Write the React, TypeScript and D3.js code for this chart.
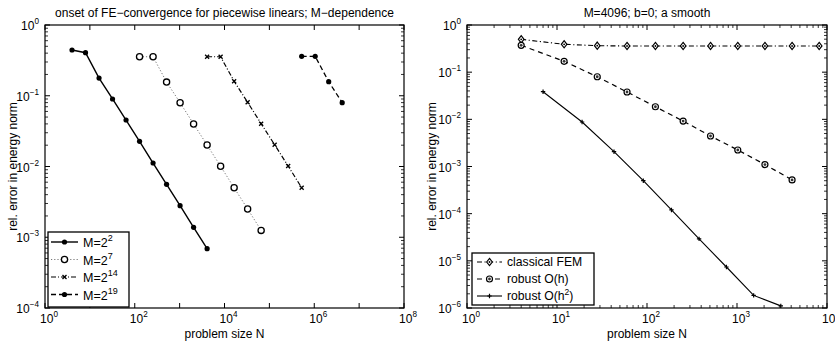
import React from "react";
import * as d3 from "d3";

// ---------- data ----------
const m2N = [4, 8, 16, 32, 64, 128, 256, 512, 1024, 2048, 4096];
const m2E = [0.443, 0.406, 0.178, 0.09, 0.0454, 0.0227, 0.0112, 0.0056, 0.00279, 0.00138, 0.00069];
const m7N = [128, 256, 512, 1024, 2048, 4096, 8192, 16384, 32768, 65536];
const m7E = [0.356, 0.356, 0.156, 0.0798, 0.0399, 0.0201, 0.01007, 0.005, 0.00251, 0.00125];
const m14N = [4096, 8192, 16384, 32768, 65536, 131072, 262144, 524288];
const m14E = [0.356, 0.356, 0.16, 0.0808, 0.0403, 0.0203, 0.01016, 0.005];
const m19N = [524288, 1048576, 2097152, 4194304];
const m19E = [0.361, 0.361, 0.158, 0.0798];

const femN = [4, 12, 28, 60, 124, 252, 508, 1020, 2044, 4092, 8188];
const femE = [0.497, 0.39, 0.364, 0.359, 0.359, 0.359, 0.359, 0.359, 0.359, 0.359, 0.359];
const ohN = [4, 12, 28, 60, 124, 252, 508, 1020, 2044, 4092];
const ohE = [0.371, 0.17, 0.08, 0.038, 0.0185, 0.0092, 0.00443, 0.00224, 0.0011, 0.00052];
const oh2N = [7, 19, 43, 91, 187, 379, 763, 1531, 3067];
const oh2E = [0.0385, 0.00879, 0.00206, 0.0005, 0.00012, 2.92e-5, 7.4e-6, 1.85e-6, 1.11e-6];

const leftXTicks = [0, 2, 4, 6, 8];
const leftYTicks = [-4, -3, -2, -1, 0];
const rightXTicks = [0, 1, 2, 3, 4];
const rightYTicks = [-6, -5, -4, -3, -2, -1, 0];

const leftTitle = "onset of FE\u2212convergence for piecewise linears; M\u2212dependence";
const rightTitle = "M=4096; b=0; a smooth";
const xLabel = "problem size N";
const yLabel = "rel. error in energy norm";

const FONT = "Liberation Sans, Arial, Helvetica, sans-serif";

type Marker = "dot" | "circle" | "x" | "diamond" | "circdot" | "plus";

function MarkerShape({ kind, x, y }: { kind: Marker; x: number; y: number }) {
  switch (kind) {
    case "dot":
      return <circle cx={x} cy={y} r={2.6} fill="#000" />;
    case "circle":
      return <circle cx={x} cy={y} r={3.1} fill="#fff" stroke="#000" strokeWidth={1.3} />;
    case "circdot":
      return (
        <g>
          <circle cx={x} cy={y} r={3.0} fill="#fff" stroke="#000" strokeWidth={1.2} />
          <circle cx={x} cy={y} r={1.4} fill="#333" />
        </g>
      );
    case "x":
      return (
        <path d={`M${x - 2},${y - 2}L${x + 2},${y + 2}M${x - 2},${y + 2}L${x + 2},${y - 2}`} stroke="#000" strokeWidth={1.3} />
      );
    case "plus":
      return (
        <path d={`M${x - 2.2},${y}L${x + 2.2},${y}M${x},${y - 2.2}L${x},${y + 2.2}`} stroke="#000" strokeWidth={1.2} />
      );
    case "diamond":
      return (
        <g>
          <path d={`M${x},${y - 3.6}L${x + 2.8},${y}L${x},${y + 3.6}L${x - 2.8},${y}Z`} fill="#fff" stroke="#000" strokeWidth={1.2} />
          <circle cx={x} cy={y} r={0.9} fill="#000" />
        </g>
      );
  }
  return null;
}

function Pow({ x, y, exp, anchor, size }: { x: number; y: number; exp: number; anchor: "middle" | "end"; size: number }) {
  const e = exp < 0 ? "\u2212" + Math.abs(exp) : String(exp);
  return (
    <text x={x} y={y} textAnchor={anchor} fontFamily={FONT} fontSize={size} fill="#000">
      10
      <tspan dy={-6} fontSize={size * 0.68}>{e}</tspan>
    </text>
  );
}

interface Series {
  n: number[];
  e: number[];
  marker: Marker;
  dash: string;
  width: number;
  color: string;
}

function Panel(props: {
  x0: number; x1: number; y0: number; y1: number;
  xDec: [number, number]; yDec: [number, number];
  xTicks: number[]; yTicks: number[];
  xMinor: boolean; yMinor: boolean;
  title: string; series: Series[]; ylabelX: number;
}) {
  const { x0, x1, y0, y1, xDec, yDec, xTicks, yTicks, series, title } = props;
  const xs = d3.scaleLog().domain([Math.pow(10, xDec[0]), Math.pow(10, xDec[1])]).range([x0, x1]);
  const ys = d3.scaleLog().domain([Math.pow(10, yDec[0]), Math.pow(10, yDec[1])]).range([y1, y0]);
  const line = d3.line<[number, number]>().x((d) => xs(d[0])).y((d) => ys(d[1]));
  const tl = 5;
  const mt = 3;
  const els: React.ReactNode[] = [];
  for (let d = xDec[0]; d <= xDec[1]; d++) {
    const v = Math.pow(10, d);
    const px = xs(v);
    els.push(<line key={`xt${d}`} x1={px} x2={px} y1={y1} y2={y1 - tl} stroke="#000" />);
    els.push(<line key={`xtt${d}`} x1={px} x2={px} y1={y0} y2={y0 + tl} stroke="#000" />);
    if (props.xMinor && d < xDec[1]) {
      for (let k = 2; k <= 9; k++) {
        const mx = xs(k * v);
        els.push(<line key={`xm${d}${k}`} x1={mx} x2={mx} y1={y1} y2={y1 - mt} stroke="#000" strokeWidth={0.8} />);
        els.push(<line key={`xmt${d}${k}`} x1={mx} x2={mx} y1={y0} y2={y0 + mt} stroke="#000" strokeWidth={0.8} />);
      }
    }
  }
  for (let d = yDec[0]; d <= yDec[1]; d++) {
    const v = Math.pow(10, d);
    const py = ys(v);
    els.push(<line key={`yt${d}`} x1={x0} x2={x0 + tl} y1={py} y2={py} stroke="#000" />);
    els.push(<line key={`ytr${d}`} x1={x1} x2={x1 - tl} y1={py} y2={py} stroke="#000" />);
    if (props.yMinor && d < yDec[1]) {
      for (let k = 2; k <= 9; k++) {
        const my = ys(k * v);
        els.push(<line key={`ym${d}${k}`} x1={x0} x2={x0 + mt} y1={my} y2={my} stroke="#000" strokeWidth={0.8} />);
        els.push(<line key={`ymr${d}${k}`} x1={x1} x2={x1 - mt} y1={my} y2={my} stroke="#000" strokeWidth={0.8} />);
      }
    }
  }
  return (
    <g>
      <rect x={x0} y={y0} width={x1 - x0} height={y1 - y0} fill="#fff" stroke="#000" strokeWidth={1.2} />
      {els}
      {series.map((s, i) => {
        const pts = s.n.map((n, j) => [n, s.e[j]] as [number, number]);
        return (
          <g key={i}>
            <path d={line(pts) || ""} fill="none" stroke={s.color} strokeWidth={s.width} strokeDasharray={s.dash} />
            {pts.map((p, j) => (
              <MarkerShape key={j} kind={s.marker} x={xs(p[0])} y={ys(p[1])} />
            ))}
          </g>
        );
      })}
      {xTicks.map((d) => (
        <Pow key={`xl${d}`} x={xs(Math.pow(10, d)) + 4} y={y1 + 15} exp={d} anchor="middle" size={12} />
      ))}
      {yTicks.map((d) => (
        <Pow key={`yl${d}`} x={x0 - 6} y={ys(Math.pow(10, d)) + 5} exp={d} anchor="end" size={12} />
      ))}
      <text x={(x0 + x1) / 2} y={y0 - 8} textAnchor="middle" fontFamily={FONT} fontSize={12}>{title}</text>
      <text x={(x0 + x1) / 2} y={y1 + 30} textAnchor="middle" fontFamily={FONT} fontSize={12}>{xLabel}</text>
      <text transform={`translate(${props.ylabelX},${(y0 + y1) / 2}) rotate(-90)`} textAnchor="middle" fontFamily={FONT} fontSize={12}>{yLabel}</text>
    </g>
  );
}

const leftSeries: Series[] = [
  { n: m2N, e: m2E, marker: "dot", dash: "", width: 1.4, color: "#000" },
  { n: m7N, e: m7E, marker: "circle", dash: "1.2,2", width: 1, color: "#777" },
  { n: m14N, e: m14E, marker: "x", dash: "5,2,1,2", width: 1.2, color: "#000" },
  { n: m19N, e: m19E, marker: "dot", dash: "5,3", width: 1.3, color: "#000" },
];
const rightSeries: Series[] = [
  { n: femN, e: femE, marker: "diamond", dash: "5,2.5,1.2,2.5", width: 1.1, color: "#000" },
  { n: ohN, e: ohE, marker: "circdot", dash: "5,4", width: 1.2, color: "#000" },
  { n: oh2N, e: oh2E, marker: "plus", dash: "", width: 1.1, color: "#000" },
];

const leftLegend = [
  { exp: "2", s: leftSeries[0] },
  { exp: "7", s: leftSeries[1] },
  { exp: "14", s: leftSeries[2] },
  { exp: "19", s: leftSeries[3] },
];
const rightLegend = [
  { label: "classical FEM", sup: "", tail: "", s: rightSeries[0] },
  { label: "robust O(h)", sup: "", tail: "", s: rightSeries[1] },
  { label: "robust O(h", sup: "2", tail: ")", s: rightSeries[2] },
];

export default function App() {
  return (
    <svg width={835} height={348} style={{ position: "absolute", left: 0, top: 0, background: "#fff" }}>
      <rect x={0} y={0} width={835} height={348} fill="#fff" />
      <Panel x0={45} x1={404} y0={25} y1={308} xDec={[0, 8]} yDec={[-4, 0]} xTicks={leftXTicks} yTicks={leftYTicks}
        xMinor={false} yMinor={true} title={leftTitle} series={leftSeries} ylabelX={17} />
      <Panel x0={467} x1={827} y0={25} y1={308} xDec={[0, 4]} yDec={[-6, 0]} xTicks={rightXTicks} yTicks={rightYTicks}
        xMinor={true} yMinor={true} title={rightTitle} series={rightSeries} ylabelX={436} />
      {/* left legend */}
      <g>
        <rect x={48} y={232} width={81} height={75} fill="#fff" stroke="#000" strokeWidth={1.3} />
        {leftLegend.map((it, i) => {
          const y = 242 + i * 17.5;
          return (
            <g key={i}>
              <line x1={51} x2={78} y1={y} y2={y} stroke={it.s.color} strokeWidth={it.s.width} strokeDasharray={it.s.dash} />
              <MarkerShape kind={it.s.marker} x={64.5} y={y} />
              <text x={83} y={y + 5} fontFamily={FONT} fontSize={12.5}>
                M=2<tspan dy={-6} fontSize={9}>{it.exp}</tspan>
              </text>
            </g>
          );
        })}
      </g>
      {/* right legend */}
      <g>
        <rect x={472} y={253} width={122} height={52} fill="#fff" stroke="#000" strokeWidth={1.3} />
        {rightLegend.map((it, i) => {
          const y = 262 + i * 17;
          return (
            <g key={i}>
              <line x1={477} x2={502} y1={y} y2={y} stroke={it.s.color} strokeWidth={it.s.width} strokeDasharray={it.s.dash} />
              <MarkerShape kind={it.s.marker} x={489.5} y={y} />
              <text x={507} y={y + 4} fontFamily={FONT} fontSize={12.2}>
                {it.label}
                {it.sup ? <tspan dy={-5} fontSize={8.5}>{it.sup}</tspan> : null}
                {it.tail ? <tspan dy={5}>{it.tail}</tspan> : null}
              </text>
            </g>
          );
        })}
      </g>
    </svg>
  );
}
